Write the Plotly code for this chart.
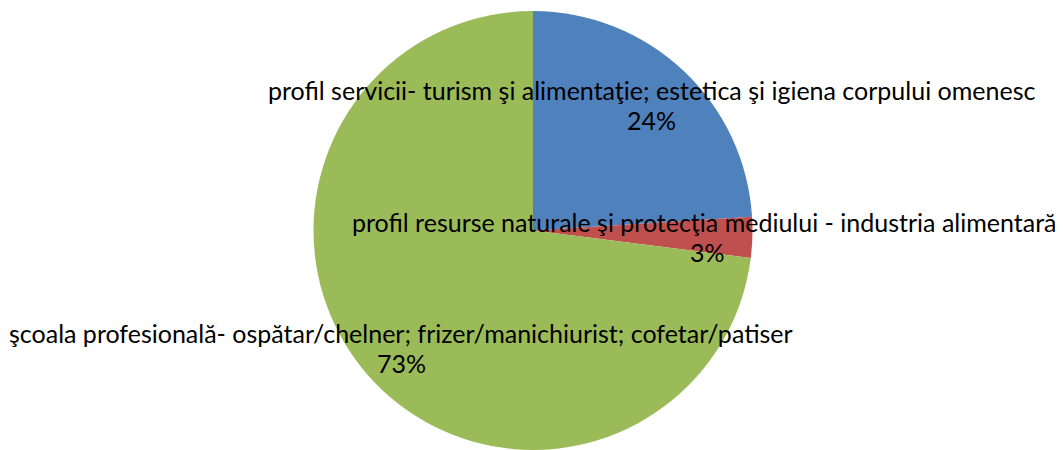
import plotly.graph_objects as go

# date grafic
labels = [
    "profil servicii- turism şi alimentaţie; estetica şi igiena corpului omenesc",
    "profil resurse naturale şi protecţia mediului - industria alimentară",
    "şcoala profesională- ospătar/chelner; frizer/manichiurist; cofetar/patiser",
]
values = [24, 3, 73]
colors = ["#4F81BD", "#C0504D", "#9BBB59"]

# pozitii etichete in pixeli de pagina (centru x, centru y pentru nume)
label_pos = [(651, 90), (704, 222), (401, 333)]

# pagina are margine de 8px, deci figura e mai mica si coordonatele se decaleaza
OFF = 8
W, H = 1063 - OFF, 450 - OFF


def fx(px_):
    return (px_ - OFF) / W


def fy(py_):
    return 1 - (py_ - OFF) / H


fig = go.Figure()
fig.add_trace(go.Pie(
    labels=labels,
    values=values,
    marker=dict(colors=colors, line=dict(width=0)),
    sort=False,
    direction="clockwise",
    rotation=0,
    textinfo="none",
    hoverinfo="label+percent",
    showlegend=False,
    domain=dict(x=[fx(312), fx(754)], y=[0, fy(11)]),
))

total = sum(values)
font = dict(family="Lato, Open Sans, sans-serif", size=25, color="#000000")
for name, val, (px_, py_) in zip(labels, values, label_pos):
    fig.add_annotation(x=fx(px_), y=fy(py_), xref="paper", yref="paper",
                       text=name, showarrow=False, font=font,
                       xanchor="center", yanchor="middle")
    fig.add_annotation(x=fx(px_ + 3 if val == 3 else px_), y=fy(py_ + 30),
                       xref="paper", yref="paper",
                       text=f"{round(val / total * 100)}%", showarrow=False, font=font,
                       xanchor="center", yanchor="middle")

fig.update_layout(
    width=W, height=H,
    margin=dict(l=0, r=0, t=0, b=0),
    paper_bgcolor="white",
    plot_bgcolor="white",
)

fig.write_html("out.html")
